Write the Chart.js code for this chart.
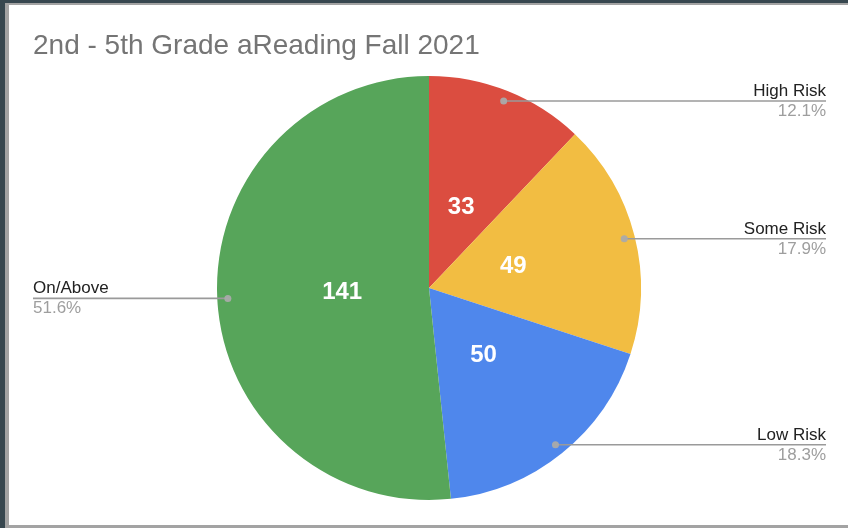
<!DOCTYPE html>
<html>
<head>
<meta charset="utf-8">
<script src="https://cdn.jsdelivr.net/npm/chart.js@4/dist/chart.umd.min.js"></script>
<style>
  html, body { margin: 0; padding: 0; background: #ffffff; width: 848px; height: 528px; overflow: hidden; }
  .frame { position: absolute; }
  #c { position: absolute; left: 0; top: 0; z-index: 2; }
</style>
</head>
<body>
<div class="frame" style="left:0;top:0;width:5px;height:528px;background:#37474f"></div>
<div class="frame" style="left:5px;top:0;width:4px;height:528px;background:#a3a3a3"></div>
<div class="frame" style="left:0;top:0;width:848px;height:3px;background:#37474f"></div>
<div class="frame" style="left:5px;top:3px;width:843px;height:2px;background:#a3a3a3"></div>
<div class="frame" style="left:5px;top:525px;width:843px;height:3px;background:#a3a3a3"></div>
<canvas id="c" width="848" height="528"></canvas>
<script>
// ---- data ----
const chartTitle = '2nd - 5th Grade aReading Fall 2021';
const categories = ['High Risk', 'Some Risk', 'Low Risk', 'On/Above'];
const counts = [33, 49, 50, 141];

// ---- styles ----
const sliceColors = ['#db4d40', '#f2bd42', '#4f87ec', '#57a55a'];
const FONT = '"Liberation Sans", Arial, Helvetica, sans-serif';

const total = counts.reduce((a, b) => a + b, 0);

const titlePlugin = {
  id: 'leftTitle',
  afterDraw(chart) {
    const ctx = chart.ctx;
    ctx.save();
    ctx.font = '28px ' + FONT;
    ctx.fillStyle = '#757575';
    ctx.textAlign = 'left';
    ctx.textBaseline = 'alphabetic';
    ctx.fillText(chartTitle, chart.chartArea.left + 23, 54);
    ctx.restore();
  }
};

const calloutPlugin = {
  id: 'callouts',
  afterDatasetsDraw(chart) {
    const ctx = chart.ctx;
    const meta = chart.getDatasetMeta(0);
    meta.data.forEach((arc, i) => {
      const p = arc.getProps(['x', 'y', 'startAngle', 'endAngle', 'outerRadius'], true);
      const mid = (p.startAngle + p.endAngle) / 2;
      const c = Math.cos(mid), s = Math.sin(mid);
      ctx.save();
      // value label inside slice
      const lr = p.outerRadius * 0.41;
      ctx.font = 'bold 24px ' + FONT;
      ctx.fillStyle = '#ffffff';
      ctx.textAlign = 'center';
      ctx.textBaseline = 'middle';
      ctx.fillText(String(counts[i]), p.x + c * lr, p.y + s * lr);
      // callout line
      const dr = p.outerRadius * 0.95;
      const dx = p.x + c * dr, dy = p.y + s * dr;
      const right = c >= 0;
      const endX = right ? chart.width - 22 : chart.chartArea.left + 23;
      ctx.strokeStyle = '#9a9a9a';
      ctx.lineWidth = 1.6;
      ctx.beginPath();
      ctx.moveTo(dx, dy);
      ctx.lineTo(endX, dy);
      ctx.stroke();
      ctx.fillStyle = 'rgba(170,170,170,0.95)';
      ctx.beginPath();
      ctx.arc(dx, dy, 3.5, 0, Math.PI * 2);
      ctx.fill();
      // texts
      ctx.textAlign = right ? 'right' : 'left';
      ctx.textBaseline = 'alphabetic';
      ctx.font = '17px ' + FONT;
      ctx.fillStyle = '#222222';
      ctx.fillText(categories[i], endX, dy - 5);
      ctx.fillStyle = '#9e9e9e';
      ctx.fillText((counts[i] / total * 100).toFixed(1) + '%', endX, dy + 15);
      ctx.restore();
    });
  }
};

new Chart(document.getElementById('c'), {
  type: 'pie',
  data: {
    labels: categories,
    datasets: [{
      data: counts,
      backgroundColor: sliceColors,
      borderWidth: 0
    }]
  },
  options: {
    responsive: false,
    animation: false,
    layout: { padding: { left: 10, right: 0, top: 76, bottom: 28 } },
    plugins: {
      legend: { display: false },
      tooltip: { enabled: false },
      title: { display: false }
    }
  },
  plugins: [titlePlugin, calloutPlugin]
});
</script>
</body>
</html>
